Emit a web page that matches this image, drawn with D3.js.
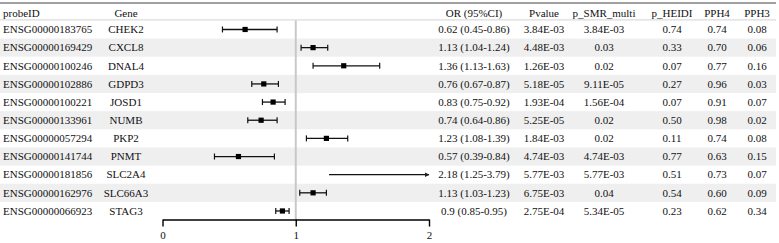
<!DOCTYPE html>
<html>
<head>
<meta charset="utf-8">
<script src="https://cdn.jsdelivr.net/npm/d3@7"></script>
<style>
  body { margin: 0; background: #fff; }
</style>
</head>
<body>
<div id="chart"></div>
<script>
// table data
const probeIDs = ["ENSG00000183765","ENSG00000169429","ENSG00000100246","ENSG00000102886","ENSG00000100221",
  "ENSG00000133961","ENSG00000057294","ENSG00000141744","ENSG00000181856","ENSG00000162976","ENSG00000066923"];
const genes = ["CHEK2","CXCL8","DNAL4","GDPD3","JOSD1","NUMB","PKP2","PNMT","SLC2A4","SLC66A3","STAG3"];
const orVals = [0.62, 1.13, 1.36, 0.76, 0.83, 0.74, 1.23, 0.57, 2.18, 1.13, 0.9];
const ciLow  = [0.45, 1.04, 1.13, 0.67, 0.75, 0.64, 1.08, 0.39, 1.25, 1.03, 0.85];
const ciHigh = [0.86, 1.24, 1.63, 0.87, 0.92, 0.86, 1.39, 0.84, 3.79, 1.23, 0.95];
const pValues = ["3.84E-03","4.48E-03","1.26E-03","5.18E-05","1.93E-04","5.25E-05","1.84E-03","4.74E-03","5.77E-03","6.75E-03","2.75E-04"];
const pSMR = ["3.84E-03","0.03","0.02","9.11E-05","1.56E-04","0.02","0.02","4.74E-03","5.77E-03","0.04","5.34E-05"];
const pHEIDI = ["0.74","0.33","0.07","0.27","0.07","0.50","0.11","0.77","0.51","0.54","0.23"];
const pph4 = ["0.74","0.70","0.77","0.96","0.91","0.98","0.74","0.63","0.73","0.60","0.62"];
const pph3 = ["0.08","0.06","0.16","0.03","0.07","0.02","0.08","0.15","0.07","0.09","0.34"];
const xTicks = [0, 1, 2];

const W = 779, H = 243;
const FONT = "Liberation Serif";
const rowH = 18.15, firstRowTop = 20.4;
const nRows = genes.length;

const svg = d3.select("#chart").append("svg")
  .attr("width", W).attr("height", H);

// row scale
const y = d3.scaleBand()
  .domain(d3.range(nRows))
  .range([firstRowTop, firstRowTop + rowH * nRows]);

// forest x scale
const x = d3.scaleLinear().domain([0, 2]).range([162.5, 429]);

// zebra stripes
svg.selectAll(".stripe")
  .data(d3.range(nRows).filter(i => i % 2 === 1))
  .enter().append("rect")
  .attr("x", 0).attr("width", 776)
  .attr("y", i => y(i)).attr("height", y.bandwidth())
  .attr("fill", "#efefef");

// top rule and header rule
svg.append("line").attr("x1", 0).attr("x2", 776).attr("y1", 3).attr("y2", 3)
  .attr("stroke", "#a0a0a0").attr("stroke-width", 2);
svg.append("line").attr("x1", 0).attr("x2", 776).attr("y1", firstRowTop - 0.5).attr("y2", firstRowTop - 0.5)
  .attr("stroke", "#dcdcdc").attr("stroke-width", 1.2);

// columns
const columns = [
  { head: "probeID", values: probeIDs, x: 3, anchor: "start" },
  { head: "Gene", values: genes, x: 126, anchor: "middle" },
  { head: "OR (95%CI)", values: orVals.map((d, i) => `${d} (${ciLow[i].toFixed(2)}-${ciHigh[i].toFixed(2)})`), x: 474, anchor: "middle" },
  { head: "Pvalue", values: pValues, x: 544, anchor: "middle" },
  { head: "p_SMR_multi", values: pSMR, x: 604, anchor: "middle" },
  { head: "p_HEIDI", values: pHEIDI, x: 672, anchor: "middle" },
  { head: "PPH4", values: pph4, x: 717, anchor: "middle" },
  { head: "PPH3", values: pph3, x: 757, anchor: "middle" }
];

columns.forEach(col => {
  svg.append("text")
    .attr("x", col.x).attr("y", 16.5)
    .attr("text-anchor", col.anchor)
    .attr("font-family", FONT).attr("font-size", 11).attr("fill", "#111")
    .text(col.head);
  svg.selectAll(null)
    .data(col.values)
    .enter().append("text")
    .attr("x", col.x)
    .attr("y", (d, i) => y(i) + y.bandwidth() / 2 + 3.8)
    .attr("text-anchor", col.anchor)
    .attr("font-family", FONT).attr("font-size", 11).attr("fill", "#111")
    .text(d => d);
});

// reference line at 1
const axisY = firstRowTop + rowH * nRows - 0.5;
svg.append("line")
  .attr("x1", x(1)).attr("x2", x(1))
  .attr("y1", firstRowTop).attr("y2", axisY)
  .attr("stroke", "#c8c8c8").attr("stroke-width", 2);

// arrow marker
svg.append("defs").append("marker")
  .attr("id", "arrow").attr("viewBox", "0 0 10 10")
  .attr("refX", 9).attr("refY", 5)
  .attr("markerWidth", 5).attr("markerHeight", 5)
  .attr("markerUnits", "userSpaceOnUse")
  .attr("orient", "auto")
  .append("path").attr("d", "M0,0 L10,5 L0,10 Z").attr("fill", "#222");

const maxX = x.domain()[1];
const g = svg.append("g");
d3.range(nRows).forEach(i => {
  const cy = y(i) + y.bandwidth() / 2;
  const clipped = ciHigh[i] > maxX;
  const hi = Math.min(ciHigh[i], maxX);
  g.append("line")
    .attr("x1", x(ciLow[i])).attr("x2", x(hi))
    .attr("y1", cy).attr("y2", cy)
    .attr("stroke", "#111").attr("stroke-width", 1.3)
    .attr("marker-end", clipped ? "url(#arrow)" : null);
  if (!clipped) {
    [ciLow[i], ciHigh[i]].forEach(v => {
      g.append("line")
        .attr("x1", x(v)).attr("x2", x(v))
        .attr("y1", cy - 3).attr("y2", cy + 3)
        .attr("stroke", "#111").attr("stroke-width", 1.2);
    });
  }
  if (orVals[i] <= maxX) {
    g.append("rect")
      .attr("x", x(orVals[i]) - 2.6).attr("y", cy - 2.6)
      .attr("width", 5.2).attr("height", 5.2)
      .attr("fill", "#000");
  }
});

// x axis
const axis = svg.append("g")
  .attr("transform", `translate(0,${axisY})`)
  .call(d3.axisBottom(x).tickValues(xTicks).tickFormat(d3.format("d")).tickSize(7).tickSizeOuter(0).tickPadding(5));
axis.select(".domain").attr("stroke", "#000").attr("stroke-width", 1.4);
axis.selectAll(".tick line").attr("stroke", "#000").attr("stroke-width", 1.4);
axis.selectAll(".tick text")
  .attr("font-family", FONT).attr("font-size", 11).attr("fill", "#111");
axis.attr("font-family", FONT).attr("font-size", 11);
</script>
</body>
</html>
